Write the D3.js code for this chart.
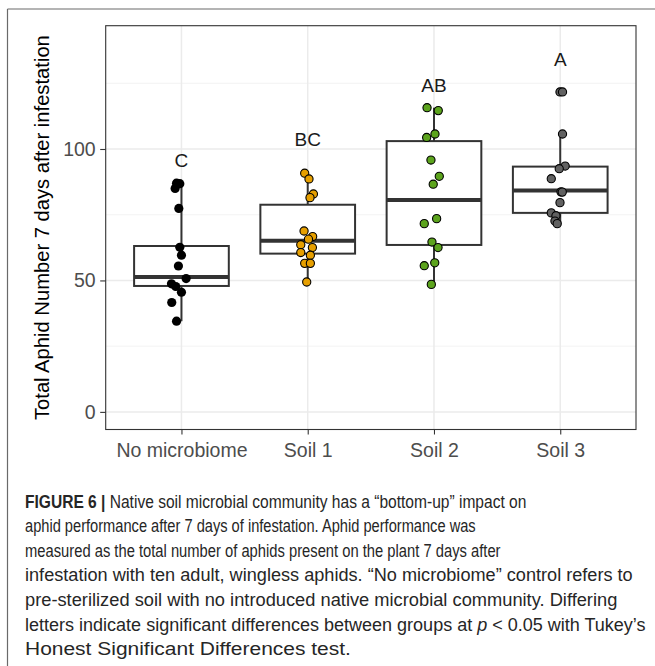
<!DOCTYPE html>
<html>
<head>
<meta charset="utf-8">
<script src="https://cdn.jsdelivr.net/npm/d3@7"></script>
<style>
  html, body { margin: 0; padding: 0; background: #fff; }
  svg { display: block; font-family: "Liberation Sans", Arial, Helvetica, sans-serif; }
</style>
</head>
<body>
<svg id="fig" width="655" height="666"></svg>
<script>
// Groups and their significance letters (Tukey HSD)
const categories = ["No microbiome", "Soil 1", "Soil 2", "Soil 3"];
const letters = ["C", "BC", "AB", "A"];
const letterY = [95.6, 103.7, 124.3, 134];
const yTicks = [0, 50, 100];
const yMinorTicks = [25, 75, 125];

// Aphid counts per plant, 7 days after infestation
const noMicrobiome = [87.0, 86.8, 85.0, 77.4, 62.6, 59.6, 55.5, 50.7, 48.7, 47.7, 45.5, 41.6, 34.5];
const soil1 = [90.8, 88.6, 82.9, 81.5, 68.8, 66.7, 65.7, 63.6, 62.5, 60.6, 59.6, 56.5, 56.5, 49.4];
const soil2 = [115.7, 114.6, 105.7, 104.4, 95.8, 89.6, 86.6, 73.5, 71.6, 64.6, 62.5, 56.7, 55.6, 48.5];
const soil3 = [121.7, 121.7, 105.7, 93.5, 92.5, 88.7, 83.7, 83.6, 79.6, 75.7, 74.6, 72.6, 71.6];

// Horizontal jitter of each point, as a fraction of the category step
const jitter1 = [-0.039, -0.013, -0.050, -0.021, -0.013, 0, -0.024, 0.037, -0.079, -0.045, 0, -0.077, -0.039];
const jitter2 = [-0.024, 0.010, 0.045, 0.018, -0.029, 0.039, 0.006, -0.055, 0.037, -0.055, 0.021, -0.024, 0.021, -0.008];
const jitter3 = [-0.055, 0.034, 0.008, -0.058, -0.024, 0.042, -0.006, 0.021, -0.077, -0.016, 0.032, 0.006, -0.077, -0.021];
const jitter4 = [-0.002, 0.018, 0.018, 0.039, -0.008, -0.071, 0.006, 0.016, -0.002, -0.071, -0.034, -0.042, -0.024];

// Box statistics per group
const whiskerLow = [34.5, 49.4, 48.5, 71.6];
const q1 = [47.9, 60.2, 63.5, 75.7];
const median = [51.3, 65.1, 80.6, 84.2];
const q3 = [63.1, 78.8, 103.0, 93.3];
const whiskerHigh = [85.7, 90.8, 115.7, 105.7];

const pointColors = ["#000000", "#E69F00", "#5ca41d", "#616161"];

const groups = [noMicrobiome, soil1, soil2, soil3];
const jitters = [jitter1, jitter2, jitter3, jitter4];

const svg = d3.select("#fig");

// Figure frame (left and top rules)
svg.append("line").attr("x1", 7.5).attr("x2", 655).attr("y1", 9).attr("y2", 9)
  .attr("stroke", "#6a6a6a").attr("stroke-width", 1.2);
svg.append("line").attr("x1", 7.5).attr("x2", 7.5).attr("y1", 9).attr("y2", 666)
  .attr("stroke", "#6a6a6a").attr("stroke-width", 1.2);

// Panel geometry
const panel = { left: 105.7, right: 636, top: 25.7, bottom: 429.5 };

const x = d3.scalePoint().domain(categories).range([panel.left, panel.right]).padding(0.6);
const y = d3.scaleLinear().domain([-6.7, 146.9]).range([panel.bottom, panel.top]);
const step = x.step();
const boxW = step * 0.75;

const g = svg.append("g");

// Grid
g.selectAll(".minor").data(yMinorTicks).join("line")
  .attr("x1", panel.left).attr("x2", panel.right)
  .attr("y1", d => y(d)).attr("y2", d => y(d))
  .attr("stroke", "#f0f0f0").attr("stroke-width", 0.8);
g.selectAll(".major").data(yTicks).join("line")
  .attr("x1", panel.left).attr("x2", panel.right)
  .attr("y1", d => y(d)).attr("y2", d => y(d))
  .attr("stroke", "#ebebeb").attr("stroke-width", 1.5);
g.selectAll(".vgrid").data(categories).join("line")
  .attr("x1", d => x(d)).attr("x2", d => x(d))
  .attr("y1", panel.top).attr("y2", panel.bottom)
  .attr("stroke", "#ebebeb").attr("stroke-width", 1.5);

// Boxplots
const boxes = g.selectAll(".box").data(categories).join("g");
boxes.append("line")
  .attr("x1", d => x(d)).attr("x2", d => x(d))
  .attr("y1", (d, i) => y(q3[i])).attr("y2", (d, i) => y(whiskerHigh[i]))
  .attr("stroke", "#333").attr("stroke-width", 2);
boxes.append("line")
  .attr("x1", d => x(d)).attr("x2", d => x(d))
  .attr("y1", (d, i) => y(q1[i])).attr("y2", (d, i) => y(whiskerLow[i]))
  .attr("stroke", "#333").attr("stroke-width", 2);
boxes.append("rect")
  .attr("x", d => x(d) - boxW / 2).attr("width", boxW)
  .attr("y", (d, i) => y(q3[i])).attr("height", (d, i) => y(q1[i]) - y(q3[i]))
  .attr("fill", "#fff").attr("stroke", "#333").attr("stroke-width", 2);
boxes.append("line")
  .attr("x1", d => x(d) - boxW / 2).attr("x2", d => x(d) + boxW / 2)
  .attr("y1", (d, i) => y(median[i])).attr("y2", (d, i) => y(median[i]))
  .attr("stroke", "#333").attr("stroke-width", 4);

// Jittered points
groups.forEach((vals, gi) => {
  g.append("g").selectAll("circle").data(vals).join("circle")
    .attr("cx", (d, i) => x(categories[gi]) + jitters[gi][i] * step)
    .attr("cy", d => y(d))
    .attr("r", gi === 0 ? 4.6 : 4.1)
    .attr("fill", pointColors[gi])
    .attr("stroke", "#000").attr("stroke-width", gi === 0 ? 0 : 1.1);
});

// Significance letters
g.selectAll(".letter").data(categories).join("text")
  .attr("x", d => x(d)).attr("y", (d, i) => y(letterY[i]))
  .attr("dy", "0.36em").attr("text-anchor", "middle")
  .attr("font-size", 19).attr("fill", "#1a1a1a")
  .text((d, i) => letters[i]);

// Panel border
g.append("rect")
  .attr("x", panel.left).attr("y", panel.top)
  .attr("width", panel.right - panel.left).attr("height", panel.bottom - panel.top)
  .attr("fill", "none").attr("stroke", "#333").attr("stroke-width", 1.1);

// Axes
const yAxis = g.append("g").attr("transform", `translate(${panel.left},0)`)
  .call(d3.axisLeft(y).tickValues(yTicks).tickSize(5.5).tickPadding(4.5));
const xAxis = g.append("g").attr("transform", `translate(0,${panel.bottom})`)
  .call(d3.axisBottom(x).tickSize(5).tickPadding(5));
[yAxis, xAxis].forEach(ax => {
  ax.select(".domain").remove();
  ax.selectAll(".tick line").attr("stroke", "#333").attr("stroke-width", 1.1);
  ax.selectAll(".tick text").attr("fill", "#4d4d4d").attr("font-size", 19.5)
    .attr("font-family", "Liberation Sans, Arial, sans-serif");
});
xAxis.selectAll(".tick text").attr("dy", "0.9em");

// Y axis title
svg.append("text")
  .attr("transform", `translate(48.5,${(panel.top + panel.bottom) / 2}) rotate(-90)`)
  .attr("text-anchor", "middle").attr("font-size", 20.2).attr("fill", "#000")
  .text("Total Aphid Number 7 days after infestation");

// Caption: each line is fitted horizontally to its column width
const captionLines = [
  [{ t: "FIGURE 6 | ", b: true }, { t: "Native soil microbial community has a \u201Cbottom-up\u201D impact on" }],
  [{ t: "aphid performance after 7 days of infestation. Aphid performance was" }],
  [{ t: "measured as the total number of aphids present on the plant 7 days after" }],
  [{ t: "infestation with ten adult, wingless aphids. \u201CNo microbiome\u201D control refers to" }],
  [{ t: "pre-sterilized soil with no introduced native microbial community. Differing" }],
  [{ t: "letters indicate significant differences between groups at " }, { t: "p", i: true }, { t: " < 0.05 with Tukey\u2019s" }],
  [{ t: "Honest Significant Differences test." }]
];
const captionWidths = [502, 451, 476, 608, 593, 621, 326];
const cap = svg.append("g").attr("fill", "#262626").attr("font-size", 18.5);
captionLines.forEach((parts, li) => {
  const tx = cap.append("text").attr("x", 0).attr("y", 0);
  parts.forEach(p => {
    tx.append("tspan").text(p.t)
      .attr("font-weight", p.b ? "bold" : null)
      .attr("font-style", p.i ? "italic" : null);
  });
  const w = tx.node().getComputedTextLength();
  tx.attr("transform", `translate(25,${507.5 + li * 24.6}) scale(${captionWidths[li] / w},1)`);
});
</script>
</body>
</html>
